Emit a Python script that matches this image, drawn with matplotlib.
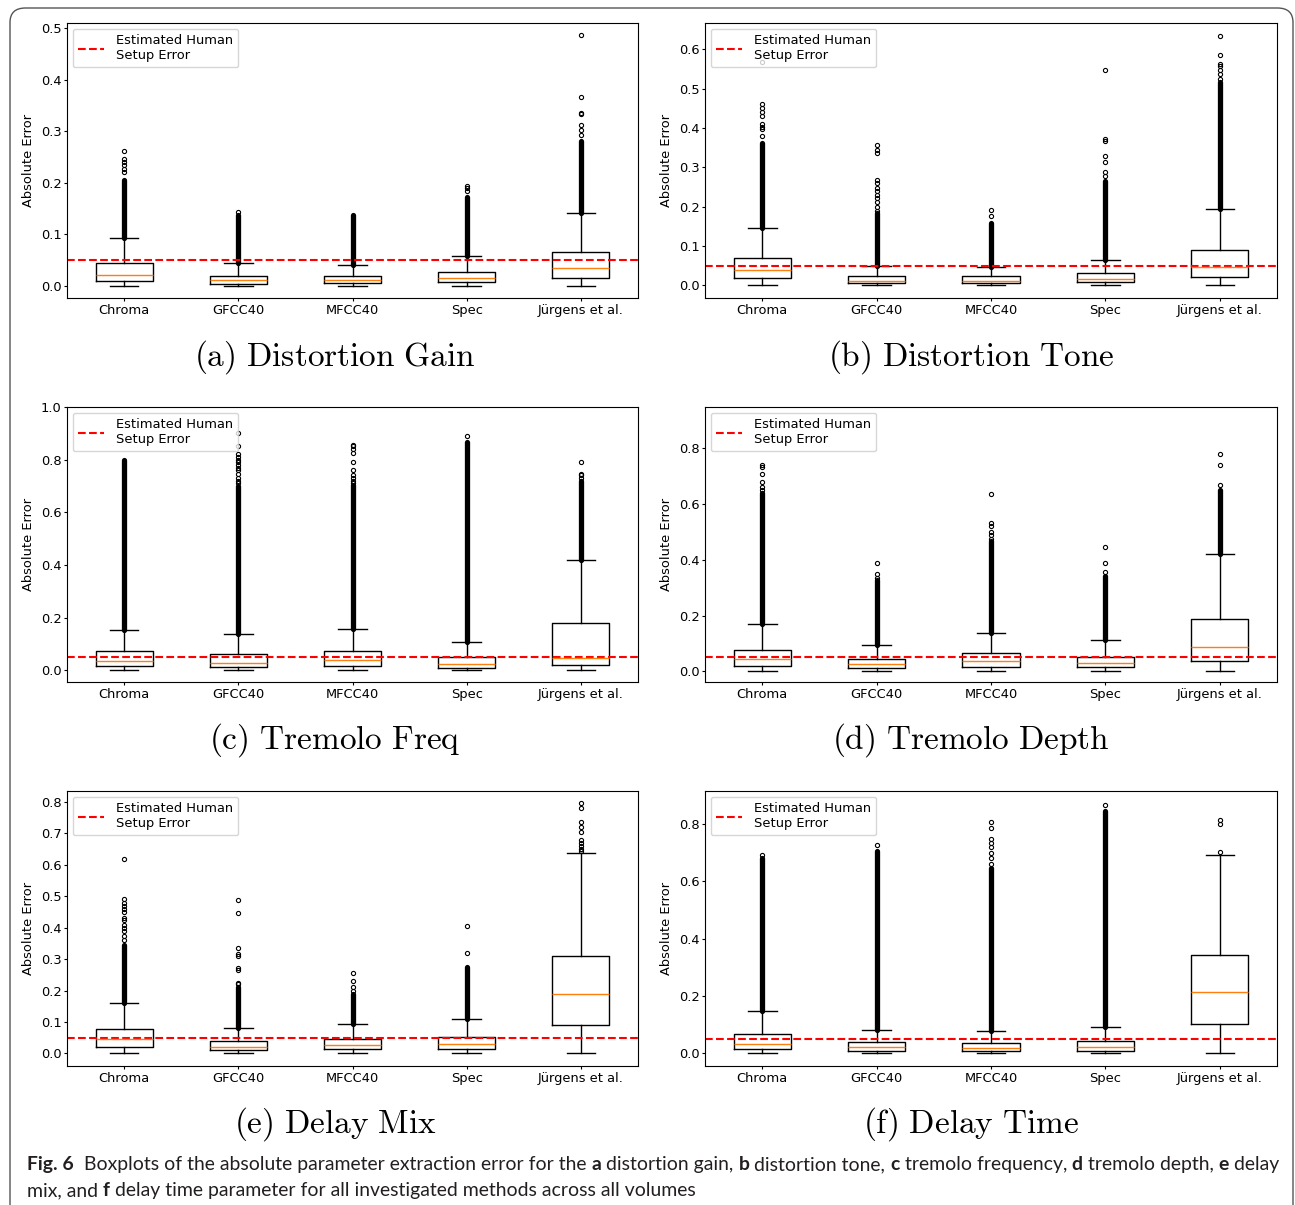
import matplotlib
matplotlib.use("Agg")
import matplotlib.pyplot as plt
from matplotlib.patches import FancyBboxPatch

plt.rcParams['mathtext.fontset'] = 'cm'

methods = ['Chroma', 'GFCC40', 'MFCC40', 'Spec', 'Jürgens et al.']
human_err = 0.05

# (a) distortion gain
gain_q1 = [0.009, 0.004, 0.0045, 0.0065, 0.0156]
gain_med = [0.021, 0.0104, 0.011, 0.0156, 0.035]
gain_q3 = [0.043, 0.0195, 0.0195, 0.027, 0.066]
gain_whi = [0.093, 0.043, 0.040, 0.058, 0.1416]
gain_dense = [0.205, 0.137, 0.138, 0.172, 0.28]
gain_fliers = [[0.22, 0.227, 0.235, 0.24, 0.245, 0.262],
               [0.1435],
               [],
               [0.184, 0.19, 0.194],
               [0.293, 0.302, 0.312, 0.333, 0.335, 0.367, 0.486]]

# (b) distortion tone
tone_q1 = [0.0178, 0.005, 0.005, 0.0076, 0.0203]
tone_med = [0.039, 0.012, 0.012, 0.016, 0.0466]
tone_q3 = [0.0686, 0.023, 0.023, 0.0305, 0.0907]
tone_whi = [0.145, 0.049, 0.046, 0.0636, 0.194]
tone_dense = [0.362, 0.185, 0.158, 0.266, 0.516]
tone_fliers = [[0.379, 0.397, 0.402, 0.411, 0.43, 0.441, 0.45, 0.46, 0.567],
               [0.19, 0.2, 0.212, 0.221, 0.23, 0.239, 0.248, 0.261, 0.267, 0.336, 0.345, 0.358],
               [0.176, 0.192],
               [0.279, 0.287, 0.313, 0.328, 0.368, 0.372, 0.547],
               [0.525, 0.537, 0.548, 0.558, 0.563, 0.585, 0.635]]

# (c) tremolo frequency
tfreq_q1 = [0.0153, 0.0102, 0.0153, 0.0089, 0.019]
tfreq_med = [0.0357, 0.0255, 0.037, 0.024, 0.048]
tfreq_q3 = [0.0713, 0.061, 0.074, 0.0497, 0.178]
tfreq_whi = [0.154, 0.136, 0.158, 0.108, 0.42]
tfreq_dense = [0.80, 0.70, 0.702, 0.868, 0.715]
tfreq_fliers = [[],
                [0.71, 0.72, 0.73, 0.745, 0.76, 0.77, 0.78, 0.79, 0.80, 0.81, 0.82, 0.851, 0.903],
                [0.71, 0.72, 0.73, 0.74, 0.76, 0.79, 0.827, 0.84, 0.85, 0.856],
                [0.889],
                [0.72, 0.73, 0.74, 0.745, 0.792]]

# (d) tremolo depth
tdepth_q1 = [0.018, 0.011, 0.017, 0.0144, 0.036]
tdepth_med = [0.043, 0.025, 0.037, 0.03, 0.0874]
tdepth_q3 = [0.078, 0.0455, 0.065, 0.053, 0.189]
tdepth_whi = [0.169, 0.096, 0.139, 0.1126, 0.4216]
tdepth_dense = [0.634, 0.328, 0.466, 0.34, 0.651]
tdepth_fliers = [[0.64, 0.65, 0.66, 0.678, 0.708, 0.732, 0.739],
                 [0.335, 0.35, 0.39],
                 [0.475, 0.49, 0.50, 0.522, 0.53, 0.637],
                 [0.355, 0.39, 0.447],
                 [0.668, 0.741, 0.78]]

# (e) delay mix
dmix_q1 = [0.0213, 0.0106, 0.0128, 0.0138, 0.0915]
dmix_med = [0.0447, 0.021, 0.0266, 0.0298, 0.19]
dmix_q3 = [0.0766, 0.038, 0.0447, 0.052, 0.31]
dmix_whi = [0.16, 0.08, 0.0947, 0.11, 0.639]
dmix_dense = [0.345, 0.21, 0.19, 0.276, 0.0]
dmix_fliers = [[0.36, 0.375, 0.39, 0.40, 0.41, 0.425, 0.43, 0.45, 0.46, 0.47, 0.48, 0.49, 0.62],
               [0.22, 0.225, 0.265, 0.273, 0.31, 0.315, 0.336, 0.446, 0.487],
               [0.2, 0.21, 0.229, 0.256],
               [0.318, 0.404],
               [0.645, 0.65, 0.66, 0.67, 0.68, 0.705, 0.72, 0.737, 0.78, 0.798]]

# (f) delay time
dtime_q1 = [0.015, 0.0092, 0.0092, 0.0081, 0.104]
dtime_med = [0.031, 0.0208, 0.0197, 0.0208, 0.215]
dtime_q3 = [0.067, 0.038, 0.037, 0.0416, 0.342]
dtime_whi = [0.147, 0.08, 0.0786, 0.0925, 0.691]
dtime_dense = [0.682, 0.705, 0.645, 0.844, 0.0]
dtime_fliers = [[0.691],
                [0.728],
                [0.66, 0.68, 0.70, 0.72, 0.735, 0.746, 0.786, 0.807],
                [0.867],
                [0.703, 0.801, 0.815]]

W, H = 1295, 1205
fig = plt.figure(figsize=(W / 100, H / 100), dpi=100)
fs = 9.4


def add_ax(l, t, r, b):
    return fig.add_axes([l / W, 1 - b / H, (r - l) / W, (b - t) / H])


def draw_panel(ax, q1, med, q3, whi, dense, fliers, ylim):
    stats = []
    for i in range(len(methods)):
        stats.append(dict(med=med[i], q1=q1[i], q3=q3[i], whislo=0.0,
                          whishi=whi[i], fliers=fliers[i]))
    ax.bxp(stats, showfliers=True,
           flierprops=dict(marker='o', markersize=3, markerfacecolor='none',
                           markeredgecolor='k', markeredgewidth=0.8),
           medianprops=dict(color='#ff7f0e', lw=1),
           boxprops=dict(lw=1), whiskerprops=dict(lw=1), capprops=dict(lw=1))
    # dense runs of outliers drawn as one thick stroke
    for i in range(len(methods)):
        if dense[i] > whi[i]:
            ax.plot([i + 1, i + 1], [whi[i], dense[i]], color='k', lw=3.8,
                    solid_capstyle='round', zorder=2)
    ax.axhline(human_err, color='red', ls='--', lw=1.5,
               label='Estimated Human\nSetup Error')
    ax.legend(loc='upper left', fontsize=fs, handletextpad=0.9,
              borderaxespad=0.45, handlelength=2.0)
    ax.set_xticks(range(1, 6), methods)
    ax.tick_params(labelsize=fs, length=2, pad=2)
    ax.set_ylabel('Absolute Error', fontsize=fs, labelpad=4)
    ax.set_ylim(ylim)
    ax.set_xlim(0.5, 5.5)


cols = [(67, 638), (705, 1277)]
rows = [(23, 298), (407, 682), (791, 1066)]

ax = add_ax(cols[0][0], rows[0][0], cols[0][1], rows[0][1])
draw_panel(ax, gain_q1, gain_med, gain_q3, gain_whi, gain_dense, gain_fliers, (-0.024, 0.51))
ax = add_ax(cols[1][0], rows[0][0], cols[1][1], rows[0][1])
draw_panel(ax, tone_q1, tone_med, tone_q3, tone_whi, tone_dense, tone_fliers, (-0.032, 0.667))
ax = add_ax(cols[0][0], rows[1][0], cols[0][1], rows[1][1])
draw_panel(ax, tfreq_q1, tfreq_med, tfreq_q3, tfreq_whi, tfreq_dense, tfreq_fliers, (-0.045, 1.0))
ax = add_ax(cols[1][0], rows[1][0], cols[1][1], rows[1][1])
draw_panel(ax, tdepth_q1, tdepth_med, tdepth_q3, tdepth_whi, tdepth_dense, tdepth_fliers, (-0.038, 0.947))
ax = add_ax(cols[0][0], rows[2][0], cols[0][1], rows[2][1])
draw_panel(ax, dmix_q1, dmix_med, dmix_q3, dmix_whi, dmix_dense, dmix_fliers, (-0.040, 0.835))
ax = add_ax(cols[1][0], rows[2][0], cols[1][1], rows[2][1])
draw_panel(ax, dtime_q1, dtime_med, dtime_q3, dtime_whi, dtime_dense, dtime_fliers, (-0.044, 0.915))

# sub-captions
subcaps = [r'$\mathrm{(a)\ Distortion\ Gain}$', r'$\mathrm{(b)\ Distortion\ Tone}$',
           r'$\mathrm{(c)\ Tremolo\ Freq}$', r'$\mathrm{(d)\ Tremolo\ Depth}$',
           r'$\mathrm{(e)\ Delay\ Mix}$', r'$\mathrm{(f)\ Delay\ Time}$']
cap_x = [335, 971]
cap_y = [357, 740, 1124]
for k, s in enumerate(subcaps):
    fig.text(cap_x[k % 2] / W, 1 - cap_y[k // 2] / H, s, ha='center', va='center',
             fontsize=24)

# frame around the figure
frame = FancyBboxPatch((10 / W, -0.05), (1283 / W), 1 - 8 / H + 0.05,
                       boxstyle='round,pad=0,rounding_size=0.012',
                       transform=fig.transFigure, fill=False,
                       edgecolor='#555555', lw=1.0, clip_on=False)
fig.patches.append(frame)

# figure caption with bold parts
cap_font = ['Liberation Sans Narrow', 'Lato']
line1 = [('Fig. 6', 'bold'), ('  Boxplots of the absolute parameter extraction error for the ', 'normal'),
         ('a', 'bold'), (' distortion gain, ', 'normal'), ('b', 'bold'), (' distortion tone, ', 'normal'),
         ('c', 'bold'), (' tremolo frequency, ', 'normal'), ('d', 'bold'), (' tremolo depth, ', 'normal'),
         ('e', 'bold'), (' delay', 'normal')]
line2 = [('mix, and ', 'normal'), ('f', 'bold'),
         (' delay time parameter for all investigated methods across all volumes', 'normal')]

renderer = fig.canvas.get_renderer()


def rich_line(parts, x0, y0, size):
    x = x0
    for s, w in parts:
        t = fig.text(x / W, 1 - y0 / H, s, fontsize=size, fontweight=w,
                     family=cap_font, color='#231f20', va='baseline')
        x += t.get_window_extent(renderer).width
    return x - x0


size = 14
width = rich_line(line1, 27, 1170, size)
for t in list(fig.texts[-len(line1):]):
    t.remove()
size = size * 1251 / width
rich_line(line1, 27, 1170, size)
rich_line(line2, 27, 1196, size)

fig.savefig('out.png', dpi=100)
